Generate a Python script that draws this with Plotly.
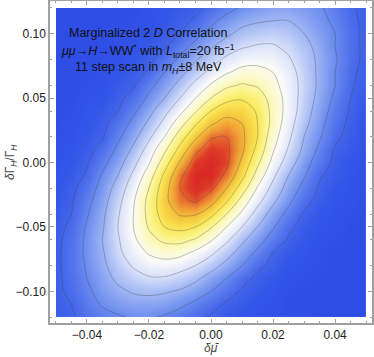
import plotly.graph_objects as go

# grid of the marginalized likelihood (contour level units)
mu_bar = [-0.05, -0.045, -0.04, -0.035, -0.03, -0.025, -0.02, -0.015, -0.01, -0.005, 0.0,
          0.005, 0.01, 0.015, 0.02, 0.025, 0.03, 0.035, 0.04, 0.045, 0.05]
gamma_h = [-0.12, -0.11, -0.10, -0.09, -0.08, -0.07, -0.06, -0.05, -0.04, -0.03, -0.02, -0.01, 0.0,
           0.01, 0.02, 0.03, 0.04, 0.05, 0.06, 0.07, 0.08, 0.09, 0.10, 0.11, 0.12]
level = [
    [0.7, 0.9, 1.3, 1.7, 1.9, 2.1, 2.1, 1.9, 1.6, 1.2, 0.9, 0.6, 0.4, 0.3, 0.2, 0.1, 0.1, 0.0, 0.0, 0.0, 0.0],
    [0.8, 1.0, 1.6, 2.1, 2.4, 2.6, 2.6, 2.5, 2.2, 1.8, 1.3, 0.9, 0.6, 0.4, 0.3, 0.1, 0.1, 0.1, 0.0, 0.0, 0.0],
    [0.8, 1.2, 1.8, 2.4, 2.8, 3.1, 3.2, 3.1, 2.9, 2.5, 2.0, 1.4, 0.9, 0.6, 0.4, 0.2, 0.1, 0.1, 0.1, 0.0, 0.0],
    [0.8, 1.3, 2.0, 2.6, 3.2, 3.6, 3.9, 3.9, 3.6, 3.2, 2.6, 2.0, 1.3, 0.8, 0.5, 0.3, 0.2, 0.1, 0.1, 0.0, 0.0],
    [0.8, 1.4, 2.1, 2.8, 3.5, 4.1, 4.5, 4.6, 4.4, 4.0, 3.4, 2.7, 2.0, 1.2, 0.8, 0.4, 0.3, 0.2, 0.1, 0.1, 0.0],
    [0.8, 1.4, 2.2, 2.9, 3.8, 4.5, 5.1, 5.4, 5.3, 4.8, 4.2, 3.4, 2.6, 1.8, 1.0, 0.6, 0.4, 0.2, 0.1, 0.1, 0.0],
    [0.8, 1.3, 2.2, 3.0, 3.9, 4.8, 5.7, 6.2, 6.3, 5.9, 5.1, 4.2, 3.2, 2.4, 1.6, 0.9, 0.5, 0.3, 0.2, 0.1, 0.1],
    [0.7, 1.2, 2.1, 2.9, 4.0, 5.0, 6.1, 7.0, 7.3, 7.0, 6.1, 5.0, 4.0, 3.0, 2.1, 1.2, 0.7, 0.4, 0.3, 0.1, 0.1],
    [0.6, 1.0, 1.9, 2.8, 3.9, 5.0, 6.3, 7.5, 8.1, 8.1, 7.3, 6.0, 4.8, 3.6, 2.6, 1.7, 0.9, 0.5, 0.3, 0.2, 0.1],
    [0.5, 0.9, 1.7, 2.6, 3.7, 4.9, 6.3, 7.7, 8.8, 9.1, 8.4, 7.1, 5.6, 4.3, 3.2, 2.2, 1.3, 0.7, 0.4, 0.3, 0.1],
    [0.4, 0.8, 1.4, 2.4, 3.4, 4.6, 6.0, 7.6, 9.0, 9.6, 9.2, 8.0, 6.5, 4.9, 3.7, 2.6, 1.7, 0.9, 0.5, 0.3, 0.2],
    [0.4, 0.6, 1.1, 2.1, 3.0, 4.2, 5.5, 7.2, 8.8, 9.7, 9.7, 8.8, 7.3, 5.6, 4.2, 3.0, 2.1, 1.1, 0.7, 0.4, 0.2],
    [0.3, 0.5, 0.9, 1.7, 2.6, 3.7, 4.9, 6.5, 8.1, 9.4, 9.7, 9.2, 7.8, 6.2, 4.7, 3.5, 2.4, 1.5, 0.8, 0.4, 0.3],
    [0.3, 0.4, 0.7, 1.3, 2.2, 3.2, 4.4, 5.8, 7.3, 8.8, 9.4, 9.2, 8.2, 6.7, 5.1, 3.9, 2.8, 1.8, 0.9, 0.6, 0.3],
    [0.2, 0.3, 0.6, 0.9, 1.8, 2.7, 3.8, 5.0, 6.5, 7.8, 8.9, 9.0, 8.2, 7.0, 5.4, 4.2, 3.0, 2.1, 1.2, 0.7, 0.4],
    [0.1, 0.3, 0.4, 0.8, 1.4, 2.3, 3.2, 4.3, 5.6, 6.9, 7.9, 8.4, 8.0, 7.0, 5.7, 4.4, 3.3, 2.3, 1.4, 0.8, 0.4],
    [0.1, 0.2, 0.4, 0.6, 1.0, 1.8, 2.7, 3.7, 4.7, 5.9, 7.0, 7.6, 7.5, 6.9, 5.7, 4.6, 3.5, 2.5, 1.6, 0.9, 0.5],
    [0.1, 0.1, 0.3, 0.4, 0.8, 1.3, 2.2, 3.0, 4.0, 5.0, 6.0, 6.7, 6.9, 6.5, 5.6, 4.6, 3.6, 2.7, 1.8, 1.0, 0.6],
    [0.1, 0.1, 0.2, 0.3, 0.6, 0.9, 1.7, 2.5, 3.3, 4.3, 5.1, 5.8, 6.1, 5.9, 5.3, 4.5, 3.7, 2.8, 2.0, 1.1, 0.7],
    [0.1, 0.1, 0.1, 0.3, 0.4, 0.7, 1.1, 2.0, 2.7, 3.5, 4.3, 4.9, 5.3, 5.3, 5.0, 4.4, 3.6, 2.8, 2.0, 1.2, 0.7],
    [0.0, 0.1, 0.1, 0.2, 0.3, 0.5, 0.8, 1.4, 2.2, 2.9, 3.6, 4.2, 4.6, 4.7, 4.6, 4.1, 3.5, 2.8, 2.1, 1.3, 0.8],
    [0.0, 0.1, 0.1, 0.1, 0.2, 0.4, 0.6, 0.9, 1.6, 2.3, 2.9, 3.5, 3.9, 4.1, 4.1, 3.8, 3.3, 2.7, 2.0, 1.3, 0.8],
    [0.0, 0.0, 0.1, 0.1, 0.2, 0.3, 0.4, 0.7, 1.0, 1.7, 2.3, 2.8, 3.3, 3.5, 3.6, 3.4, 3.0, 2.5, 2.0, 1.3, 0.8],
    [0.0, 0.0, 0.0, 0.1, 0.1, 0.2, 0.3, 0.5, 0.8, 1.1, 1.8, 2.3, 2.7, 2.9, 3.0, 3.0, 2.7, 2.3, 1.8, 1.2, 0.8],
    [0.0, 0.0, 0.0, 0.1, 0.1, 0.1, 0.3, 0.4, 0.6, 0.8, 1.2, 1.7, 2.1, 2.4, 2.6, 2.6, 2.4, 2.1, 1.7, 1.1, 0.8],
]
x_ticks = [-0.04, -0.02, 0.0, 0.02, 0.04]
x_ticktext = ["−0.04", "−0.02", "0.00", "0.02", "0.04"]
y_ticks = [-0.10, -0.05, 0.0, 0.05, 0.10]
y_ticktext = ["−0.10", "−0.05", "0.00", "0.05", "0.10"]

# temperature-map style colours, keyed by level
zmax = 9.8
stops = [(0, "rgb(46,76,230)"), (0.5, "rgb(52,86,232)"), (1, "rgb(68,102,234)"),
         (2, "rgb(105,138,238)"), (3, "rgb(160,182,244)"), (4, "rgb(218,226,250)"),
         (4.8, "rgb(250,250,250)"), (5.6, "rgb(252,250,200)"), (6.4, "rgb(251,243,135)"),
         (7.1, "rgb(249,230,85)"), (7.8, "rgb(245,200,62)"), (8.4, "rgb(240,160,55)"),
         (8.9, "rgb(232,110,48)"), (9.3, "rgb(222,60,40)"), (9.8, "rgb(215,35,35)")]
cs = [[v / zmax, c] for v, c in stops]

fig = go.Figure(go.Contour(
    x=mu_bar, y=gamma_h, z=level, colorscale=cs, zmin=0, zmax=zmax, showscale=False,
    contours=dict(start=1, end=9, size=1, coloring="heatmap"),
    line=dict(color="rgba(60,60,60,0.45)", width=0.7, smoothing=1.0),
    hoverinfo="skip"))

font = "Liberation Sans, Arial"
txt = dict(family=font, size=12.5, color="#111")
lines = ["Marginalized 2 <i>D</i> Correlation",
         "<i>μμ</i>→<i>H</i>→WW<sup>*</sup> with <i>L</i><sub>total</sub>=20 fb<sup>−1</sup>",
         "11 step scan in <i>m<sub>H</sub></i>±8 MeV"]
for t, yy in zip(lines, [0.1008, 0.0869, 0.0731]):
    fig.add_annotation(x=-0.0203, y=yy, text=t, showarrow=False, font=txt,
                       xanchor="center", yanchor="middle")

# axis titles
fig.add_annotation(x=0.5, y=-0.077, xref="paper", yref="paper", text="<i>δμ̄</i>", showarrow=False,
                   xanchor="center", yanchor="middle",
                   font=dict(family=font, size=12, color="#444"))
fig.add_annotation(x=-0.121, y=0.5, xref="paper", yref="paper", textangle=-90,
                   text="<i>δ</i>Γ<sub><i>H</i></sub>/Γ<sub><i>H</i></sub>", showarrow=False,
                   xanchor="center", yanchor="middle",
                   font=dict(family=font, size=12, color="#444"))

ax = dict(showline=True, mirror="ticks", linecolor="#a0a0a0", linewidth=1.5, ticks="inside",
          ticklen=4, tickcolor="#a0a0a0", showgrid=False, zeroline=False, automargin=False,
          tickfont=dict(family=font, size=12, color="#222"),
          minor=dict(ticks="inside", ticklen=2, tickcolor="#a0a0a0"))
fig.update_layout(
    width=374, height=357, margin=dict(l=50, r=2, t=1, b=34, autoexpand=False),
    paper_bgcolor="white", plot_bgcolor="white", showlegend=False,
    xaxis=dict(range=[-0.0519, 0.0519], tickvals=x_ticks, ticktext=x_ticktext, **ax),
    yaxis=dict(range=[-0.1246, 0.1254], tickvals=y_ticks, ticktext=y_ticktext, **ax),
)
# page body has a default 8px margin; drop it so the figure sits at the window corner
fig.write_html("out.html", config={"displayModeBar": False},
               post_script="document.body.style.margin='0px';")
